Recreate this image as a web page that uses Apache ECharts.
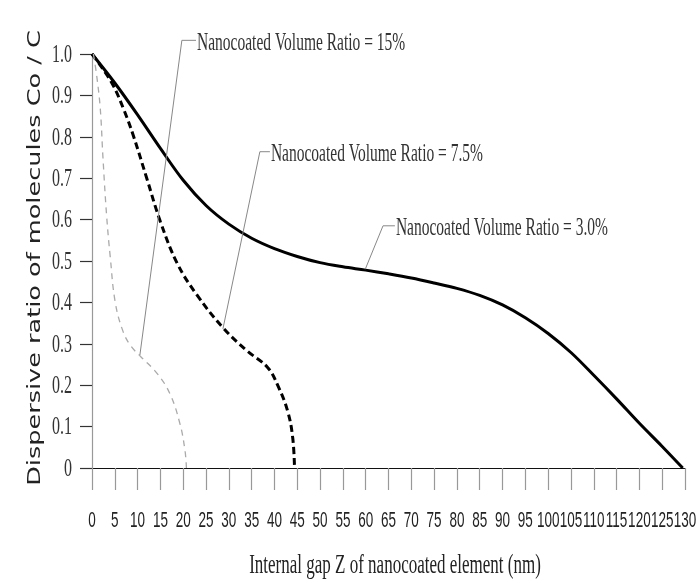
<!DOCTYPE html>
<html>
<head>
<meta charset="utf-8">
<script src="https://cdn.jsdelivr.net/npm/echarts@6/dist/echarts.min.js"></script>
<style>html,body{margin:0;padding:0;background:#fff;}#c{width:697px;height:583px;}</style>
</head>
<body>
<div id="c"></div>
<script>
// ---- data ----
const ratio30 = [[0,1.0],[5,0.93],[10,0.853],[15,0.772],[20,0.695],[25,0.634],[30,0.589],[35,0.555],[40,0.53],[45,0.511],[50,0.496],[55,0.486],[60,0.478],[65,0.469],[70,0.459],[75,0.447],[80,0.434],[85,0.417],[90,0.394],[95,0.363],[100,0.325],[105,0.279],[110,0.224],[115,0.167],[120,0.108],[125,0.052],[129.5,0]];
const ratio75 = [[0,1.0],[2,0.97],[4.6,0.925],[7,0.865],[9,0.805],[12,0.7],[15,0.595],[18.7,0.494],[23,0.418],[28.8,0.338],[34,0.283],[38.5,0.243],[40.7,0.2],[42.9,0.137],[44,0.073],[44.4,0]];
const ratio15 = [[0.3,1.0],[1,0.95],[1.8,0.87],[2.4,0.75],[3.2,0.61],[4,0.51],[5.1,0.40],[6.8,0.33],[8.5,0.295],[10.6,0.27],[14.3,0.228],[17.1,0.179],[19.3,0.106],[20.4,0.041],[20.7,0]];
const xTicks = [0,5,10,15,20,25,30,35,40,45,50,55,60,65,70,75,80,85,90,95,100,105,110,115,120,125,130];
const yTickLabels = ['0','0.1','0.2','0.3','0.4','0.5','0.6','0.7','0.8','0.9','1.0'];
// annotation: [pointX, pointY, elbowX, leaderY, textStartX]
const annoPoints = [[10.5,0.273,19.7,1.033,22.8],[28.7,0.336,36.8,0.764,39.0],[59.9,0.48,63.8,0.585,66.4]];
const annoLabels = ['Nanocoated Volume Ratio = 15%','Nanocoated Volume Ratio = 7.5%','Nanocoated Volume Ratio = 3.0%'];
const xTitle = 'Internal gap Z of nanocoated element (nm)';
const yTitle = 'Dispersive ratio of molecules Co / C';

const STRETCH = 1.6; // the reference's text is drawn tall and narrow
const chart = echarts.init(document.getElementById('c'));
chart.setOption({
  animation: false,
  backgroundColor: '#fff',
  grid: {left: 92, right: 12, top: 54, bottom: 115},
  xAxis: {
    type: 'value', min: 0, max: 130, interval: 5,
    axisLine: {show: true, lineStyle: {color: '#111', width: 1.2}},
    axisTick: {show: true, length: 22, lineStyle: {color: '#999', width: 1.2}},
    axisLabel: {show: false},
    splitLine: {show: false}
  },
  yAxis: {
    type: 'value', min: 0, max: 1, interval: 0.1,
    axisLine: {show: true, lineStyle: {color: '#999', width: 1.2}},
    axisTick: {show: true, length: 12, lineStyle: {color: '#333', width: 1.2}},
    axisLabel: {show: false},
    splitLine: {show: false}
  },
  graphic: [
    {type: 'text', x: 395, y: 566, scaleY: STRETCH,
      style: {text: xTitle, font: '17px "Liberation Serif", serif', fill: '#222', align: 'center', verticalAlign: 'middle'}},
    {type: 'text', x: 35, y: 258, rotation: Math.PI / 2, scaleX: 1.46,
      style: {text: yTitle, font: '17.5px "DejaVu Sans", sans-serif', fill: '#222', align: 'center', verticalAlign: 'middle'}}
  ],
  series: [
    {type: 'line', name: '3.0%', data: ratio30, showSymbol: false, smooth: 0.35, clip: false,
      lineStyle: {color: '#000', width: 3}},
    {type: 'line', name: '7.5%', data: ratio75, showSymbol: false, smooth: 0.4, clip: false,
      lineStyle: {color: '#000', width: 3, type: [7, 4]}},
    {type: 'line', name: '15%', data: ratio15, showSymbol: false, smooth: 0.4, clip: false,
      lineStyle: {color: '#aaa', width: 1.3, type: [6, 5]}},
    {type: 'custom', data: annoPoints, clip: false, z: 5,
      renderItem: function (params, api) {
        const p = api.coord([api.value(0), api.value(1)]);
        const e = api.coord([api.value(2), api.value(3)]);
        const t = api.coord([api.value(4), api.value(3)]);
        return {type: 'group', children: [
          {type: 'polyline', shape: {points: [p, e, t]}, style: {stroke: '#888', lineWidth: 1, fill: null}},
          {type: 'text', x: t[0] + 1, y: t[1] + 3, scaleY: STRETCH, style: {text: annoLabels[params.dataIndex], fill: '#333',
            font: '15.5px "Liberation Serif", serif', verticalAlign: 'middle', align: 'left'}}
        ]};
      }
    },
    {type: 'custom', name: 'xTickLabels', data: xTicks.map(v => [v, 0]), clip: false, silent: true,
      renderItem: function (params, api) {
        const p = api.coord([api.value(0), api.value(1)]);
        return {type: 'text', x: p[0], y: p[1] + 53, scaleY: 1.6,
          style: {text: String(xTicks[params.dataIndex]), fill: '#222', font: '13.5px "Liberation Sans", sans-serif', align: 'center', verticalAlign: 'middle'}};
      }
    },
    {type: 'custom', name: 'yTickLabels', data: yTickLabels.map(s => [0, parseFloat(s)]), clip: false, silent: true,
      renderItem: function (params, api) {
        const p = api.coord([api.value(0), api.value(1)]);
        return {type: 'text', x: p[0] - 20, y: p[1] + 1, scaleY: 1.6,
          style: {text: yTickLabels[params.dataIndex], fill: '#333', font: '16px "Liberation Serif", serif', align: 'right', verticalAlign: 'middle'}};
      }
    }
  ]
});
</script>
</body>
</html>
